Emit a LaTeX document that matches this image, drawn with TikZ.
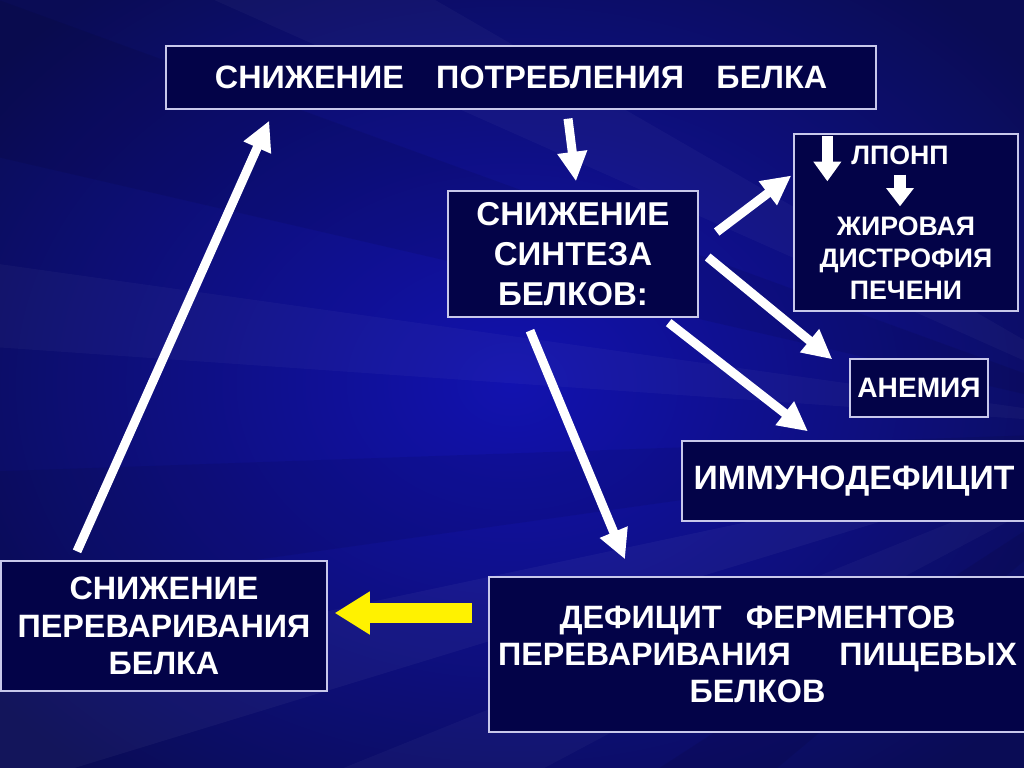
\documentclass[tikz,border=0pt]{standalone}
\usepackage{fontspec}
\setmainfont{Liberation Sans}
\usetikzlibrary{arrows.meta,positioning,calc}

\definecolor{bgdark}{RGB}{10,12,85}
\definecolor{bglight}{RGB}{18,18,175}
\definecolor{boxfill}{RGB}{3,3,72}
\definecolor{boxline}{RGB}{200,200,235}

\begin{document}
\begin{tikzpicture}[x=0.025cm,y=-0.025cm,
    box/.style={draw=boxline,line width=0.9pt,fill=boxfill,text=white,align=center,inner sep=0pt,
        font=\bfseries\fontsize{23}{26.5}\selectfont},
    txt/.style={text=white,align=center,inner sep=0pt,font=\bfseries\fontsize{19}{22.8}\selectfont},
    warr/.style={draw=white,line width=6.4pt,-{Triangle[length=21pt,width=20pt]}},
    yarr/.style={draw=yellow,line width=14pt,-{Triangle[length=25pt,width=29pt]}}]

\useasboundingbox (0,0) rectangle (1024,768);
\clip (0,0) rectangle (1024,768);

% background with rays
\shade[inner color=bglight,outer color=bgdark] (-150,-120) rectangle (1174,888);
\foreach \a/\b/\c/\o in {140/147/black/0.08, 152/158/white/0.03, 163/168/white/0.04,
    172/178/black/0.07, 184/188/white/0.03, 193/200/black/0.08, 204/210/white/0.03} {
    \fill[\c,opacity=\o] (1180,430) -- +(\a:1700) -- +(\b:1700) -- cycle;
}

% boxes
\node[box,minimum width=17.75cm,minimum height=1.575cm] (top) at (521,77.5)
    {СНИЖЕНИЕ\hspace{1em}ПОТРЕБЛЕНИЯ\hspace{1em}БЕЛКА};
\node[box,minimum width=6.25cm,minimum height=3.15cm,
    font=\bfseries\fontsize{23.5}{28.5}\selectfont] (synth) at (573,254)
    {СНИЖЕНИЕ\\СИНТЕЗА\\БЕЛКОВ:};
\node[box,minimum width=5.6cm,minimum height=4.425cm] (lponp) at (906,222.5) {};
\node[txt] (vldl) at (900,155) {ЛПОНП};
\node[txt] (liver) at (906,258) {ЖИРОВАЯ\\ДИСТРОФИЯ\\ПЕЧЕНИ};
\node[box,minimum width=3.45cm,minimum height=1.45cm,
    font=\bfseries\fontsize{20}{24}\selectfont] (anemia) at (919,388) {АНЕМИЯ};
\node[box,minimum width=8.6cm,minimum height=2cm,
    font=\bfseries\fontsize{24}{28}\selectfont] (immuno) at (854,481) {ИММУНОДЕФИЦИТ};
\node[box,minimum width=13.425cm,minimum height=3.875cm] (deficit) at (757.5,654.5)
    {ДЕФИЦИТ\hspace{0.75em}ФЕРМЕНТОВ\\ПЕРЕВАРИВАНИЯ\hspace{1.5em}ПИЩЕВЫХ\\БЕЛКОВ};
\node[box,minimum width=8.15cm,minimum height=3.25cm] (digest) at (164,626)
    {СНИЖЕНИЕ\\ПЕРЕВАРИВАНИЯ\\БЕЛКА};

% small arrows inside the liver box
\draw[white,line width=7.8pt,-{Triangle[length=14pt,width=19pt]}]
    ($(lponp.north west)+(34,3)$) -- ($(lponp.north west)+(34,48)$);
\draw[white,line width=9pt,-{Triangle[length=13pt,width=19pt]}]
    ($(vldl.south)+(0,10)$) -- ($(liver.north)+(-6,-10)$);

% connectors
\draw[warr] ($(top.south)+(47,9)$) -- ($(synth.north)+(3,-9)$);
\draw[warr] ($(synth.east)+(18,-22)$) -- ($(lponp.west)+(-2,-47)$);
\draw[warr] ($(synth.east)+(9,3)$) -- ($(anemia.north west)+(-17,1)$);
\draw[warr] ($(synth.south east)+(-30,5)$) -- ($(immuno.north)+(-46,-9)$);
\draw[warr] ($(synth.south)+(-43,13)$) -- ($(deficit.north)+(-132.5,-17)$);
\draw[yarr] ($(deficit.west)+(-16,-41.5)$) -- ($(digest.east)+(7,-13)$);
\draw[warr] ($(digest.north)+(-87,-9)$) -- ($(top.south west)+(104,11)$);
\end{tikzpicture}
\end{document}
